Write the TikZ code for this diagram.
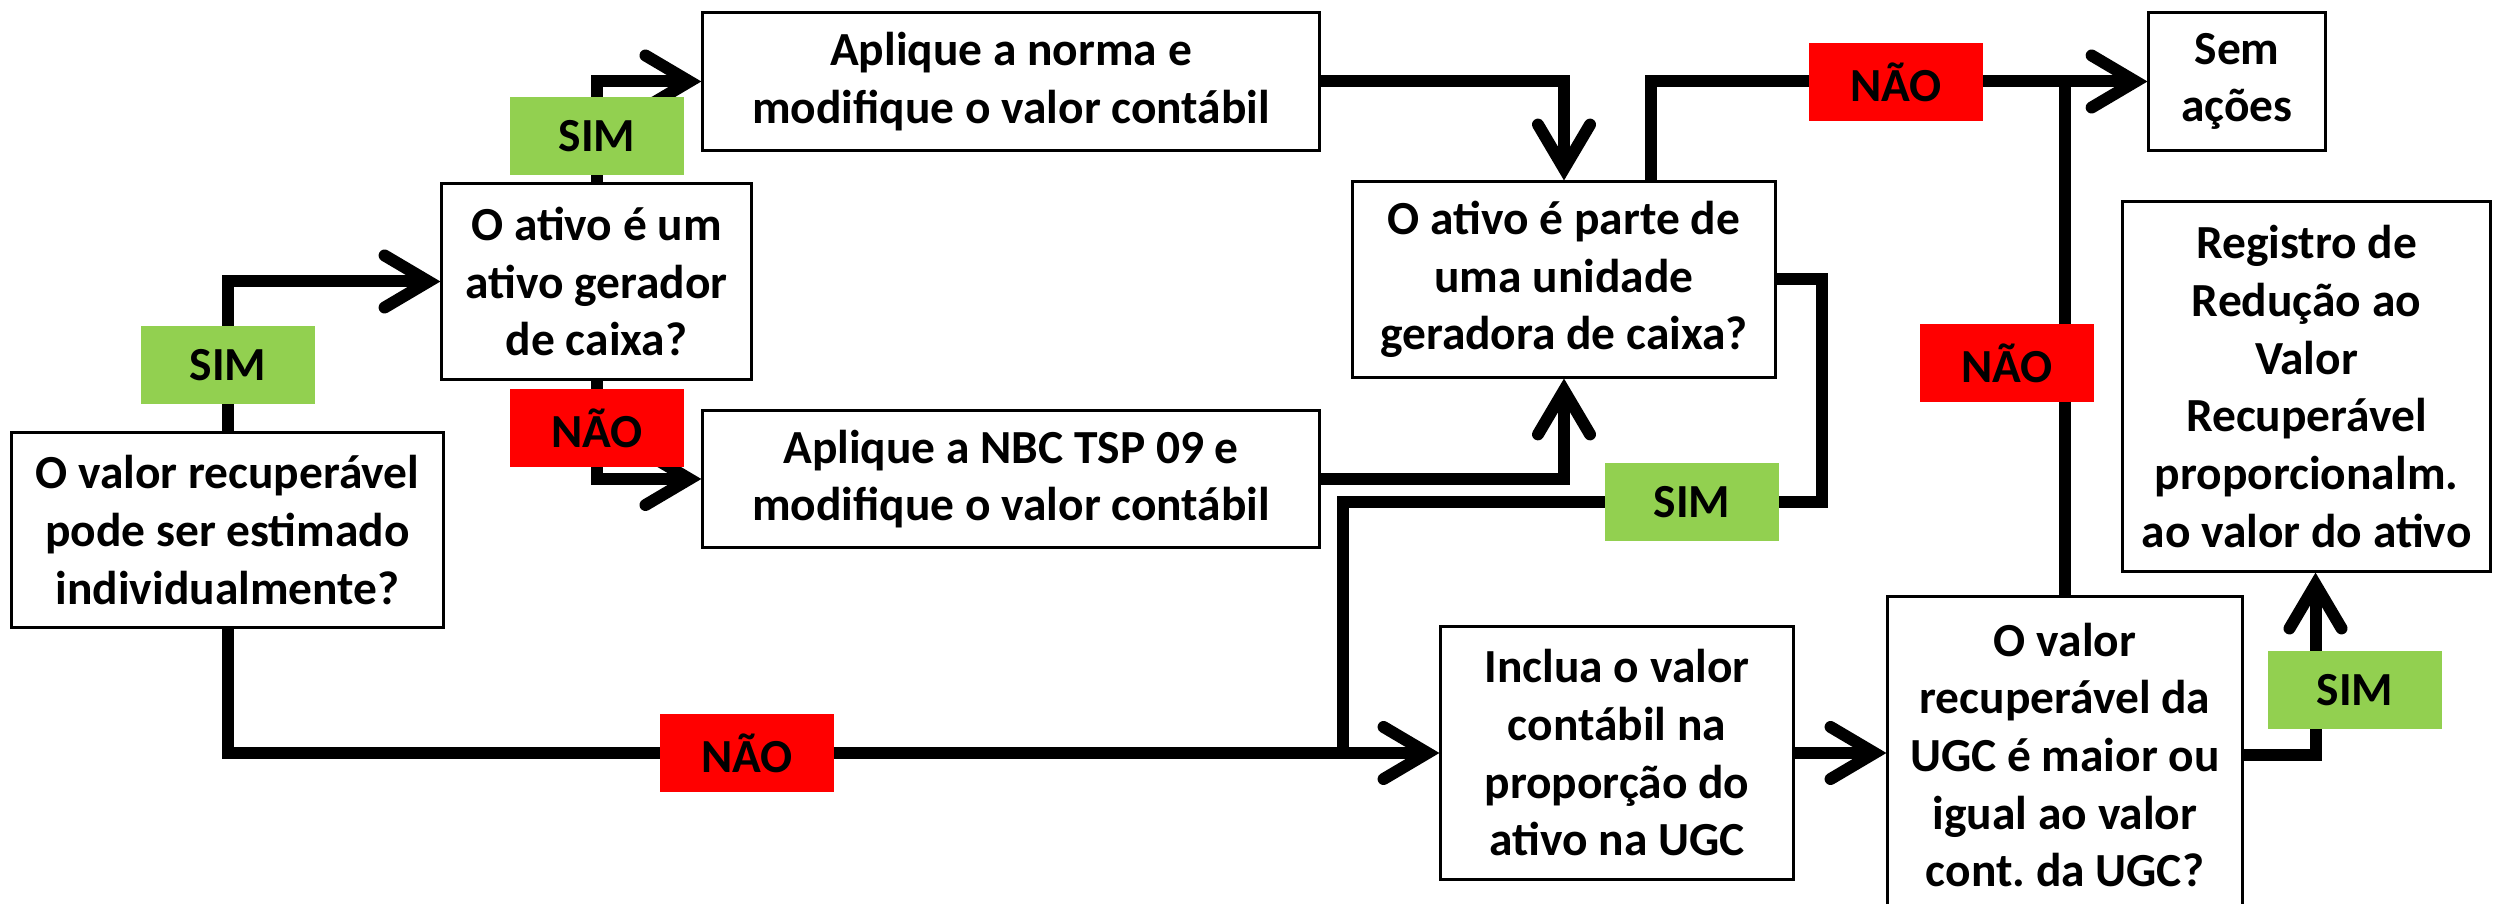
\documentclass[tikz,border=0pt]{standalone}
\usepackage{fontspec}
\setmainfont{Carlito}
\usetikzlibrary{arrows.meta}
\definecolor{verdesim}{RGB}{146,208,80}
\frenchspacing

\begin{document}
\begin{tikzpicture}[x=0.01cm, y=0.01cm]
\tikzstyle{every node}+=[inner sep=0pt, align=center, font=\bfseries\fontsize{13.5}{16.4}\selectfont]
\tikzstyle{caixa}=[draw=black, line width=0.85pt, fill=white]
\tikzstyle{sim}=[fill=verdesim, minimum width=1.74cm, minimum height=0.78cm]
\tikzstyle{nao}=[fill=red, minimum width=1.74cm, minimum height=0.78cm]
\tikzstyle{fluxo}=[black, line width=0.12cm]
\tikzstyle{seta}=[fluxo, -{Straight Barb[length=0.44cm, width=0.52cm, line cap=round]}]
\useasboundingbox (0,0) rectangle (2494,-904);
\node [caixa, minimum width=4.31cm, minimum height=1.94cm] (b1) at (227.5,-530) {O valor recuperável\\pode ser estimado\\individualmente?};
\node [caixa, minimum width=3.09cm, minimum height=1.95cm] (b2) at (596.5,-281.5) {O ativo é um\\ativo gerador\\de caixa?};
\node [caixa, minimum width=6.16cm, minimum height=1.37cm] (b3) at (1011,-81.5) {Aplique a norma e\\modifique o valor contábil};
\node [caixa, minimum width=6.16cm, minimum height=1.36cm] (b4) at (1011,-479) {Aplique a NBC TSP 09 e\\modifique o valor contábil};
\node [caixa, minimum width=4.22cm, minimum height=1.95cm] (b5) at (1564,-279.5) {O ativo é parte de\\uma unidade\\geradora de caixa?};
\node [caixa, minimum width=1.76cm, minimum height=1.37cm] (sem) at (2237,-81.5) {Sem\\ações};
\node [caixa, minimum width=3.67cm, minimum height=3.69cm] (reg) at (2306.5,-386.5) {Registro de\\Redução ao\\Valor\\Recuperável\\proporcionalm.\\ao valor do ativo};
\node [caixa, minimum width=3.52cm, minimum height=2.52cm] (inc) at (1617,-753) {Inclua o valor\\contábil na\\proporção do\\ativo na UGC};
\node [caixa, minimum width=3.54cm, minimum height=3.16cm] (ugc) at (2065,-755) {O valor\\recuperável da\\UGC é maior ou\\igual ao valor\\cont. da UGC?};
\coordinate (d1) at (1822,-502);
\coordinate (d2) at (1343,-753);
\draw [seta] (b1.north) |- (b2.west);
\draw [seta] (b2.north) |- (b3.west);
\draw [seta] (b2.south) |- (b4.west);
\draw [seta] (b1.south) |- (inc.west);
\draw [seta] (b3.east) -| (b5.north);
\draw [seta] (b4.east) -| (b5.south);
\draw [seta] ([xshift=0.87cm]b5.north) |- (sem.west);
\draw [fluxo] (ugc.north) -- (ugc.north |- sem.west);
\draw [fluxo] (b5.east) -| (d1) -| (d2);
\draw [seta] (inc.east) -- (inc.east -| ugc.west);
\draw [seta] (ugc.east) -| ([xshift=0.09cm]reg.south);
\node [sim] (s1) at (228,-365) {SIM};
\node [sim] (s2) at (597,-136) {SIM};
\node [nao] (n1) at (597,-428) {NÃO};
\node [nao] (n2) at (747,-753) {NÃO};
\node [nao] (n3) at (1896,-82) {NÃO};
\node [nao] (n4) at (2007,-363) {NÃO};
\node [sim] (s3) at (1692,-502) {SIM};
\node [sim] (s4) at (2355,-690) {SIM};
\end{tikzpicture}
\end{document}
